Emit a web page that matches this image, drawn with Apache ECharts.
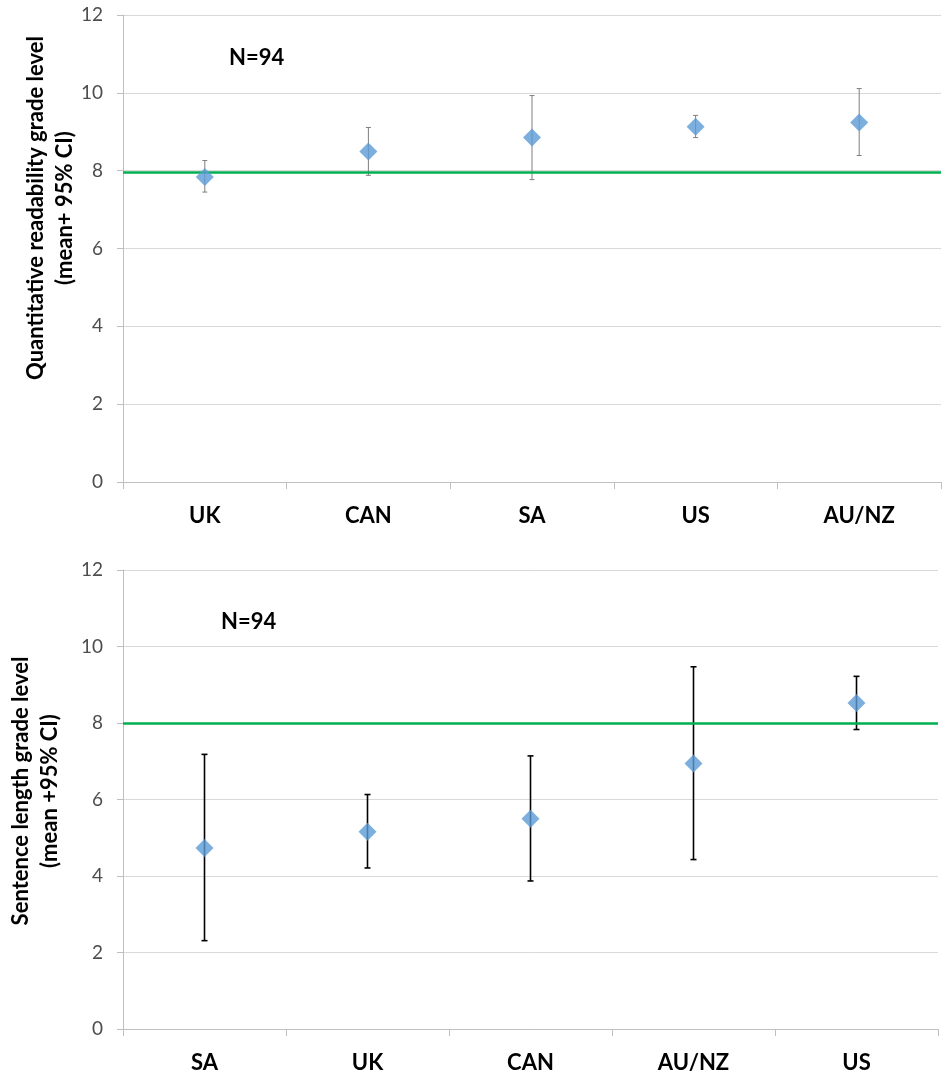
<!DOCTYPE html>
<html>
<head>
<meta charset="utf-8">
<script src="https://cdn.jsdelivr.net/npm/echarts@6/dist/echarts.min.js"></script>
<style>
html,body{margin:0;padding:0;background:#fff;}
#main{width:946px;height:1074px;}
</style>
</head>
<body>
<div id="main"></div>
<script>
// ---- data ----
const topCategories = ['UK', 'CAN', 'SA', 'US', 'AU/NZ'];
const topMean  = [7.84, 8.49, 8.85, 9.13, 9.24];
const topLower = [7.45, 7.88, 7.77, 8.85, 8.39];
const topUpper = [8.26, 9.11, 9.93, 9.42, 10.11];
const topReference = 7.97;

const bottomCategories = ['SA', 'UK', 'CAN', 'AU/NZ', 'US'];
const bottomMean  = [4.73, 5.16, 5.50, 6.94, 8.52];
const bottomLower = [2.31, 4.21, 3.87, 4.43, 7.83];
const bottomUpper = [7.18, 6.13, 7.14, 9.47, 9.22];
const bottomReference = 8.0;

const yMin = 0, yMax = 12, yInterval = 2;
const nLabel = 'N=94';
const topTitle = 'Quantitative readability grade level\n(mean+ 95% CI)';
const bottomTitle = 'Sentence length grade level\n(mean +95% CI)';

// ---- styles ----
const FONT = 'Lato, "Open Sans", sans-serif';
const markerColor = '#5B9BD5';
const refColor = '#00B050';
const gridColor = '#D9D9D9';
const axisColor = '#BFBFBF';

function errorBarRenderer(color, width, capHalf) {
  return function (params, api) {
    const x = api.value(0);
    const lo = api.coord([x, api.value(1)]);
    const hi = api.coord([x, api.value(2)]);
    const st = { stroke: color, lineWidth: width };
    return {
      type: 'group',
      children: [
        { type: 'line', shape: { x1: lo[0], y1: lo[1], x2: hi[0], y2: hi[1] }, style: st },
        { type: 'line', shape: { x1: lo[0] - capHalf, y1: lo[1], x2: lo[0] + capHalf, y2: lo[1] }, style: st },
        { type: 'line', shape: { x1: hi[0] - capHalf, y1: hi[1], x2: hi[0] + capHalf, y2: hi[1] }, style: st }
      ]
    };
  };
}

function xAxisFor(cats, gridIndex) {
  return {
    type: 'category', gridIndex: gridIndex, data: cats,
    axisLine: { lineStyle: { color: axisColor, width: 1 } },
    axisTick: { show: true, length: 7, lineStyle: { color: axisColor } },
    axisLabel: { color: '#000', fontFamily: FONT, fontWeight: 'bold', fontSize: 22, margin: 23 },
    splitLine: { show: false }
  };
}
function yAxisFor(gridIndex) {
  return {
    type: 'value', gridIndex: gridIndex, min: yMin, max: yMax, interval: yInterval,
    axisLine: { show: true, lineStyle: { color: axisColor, width: 1 } },
    axisTick: { show: true, length: 6, lineStyle: { color: axisColor } },
    axisLabel: { color: '#4D4D4D', fontFamily: FONT, fontSize: 19, margin: 20 },
    splitLine: { show: true, lineStyle: { color: gridColor, width: 1 } }
  };
}

const chart = echarts.init(document.getElementById('main'), null, { renderer: 'canvas' });
chart.setOption({
  animation: false,
  backgroundColor: '#fff',
  grid: [
    { left: 123, top: 15, width: 818, height: 467 },
    { left: 123, top: 570, width: 815, height: 459 }
  ],
  xAxis: [xAxisFor(topCategories, 0), xAxisFor(bottomCategories, 1)],
  yAxis: [yAxisFor(0), yAxisFor(1)],
  graphic: [
    { type: 'text', x: 50, y: 208, rotation: Math.PI / 2,
      style: { text: topTitle, font: 'bold 22px ' + FONT, fill: '#000', textAlign: 'center', textVerticalAlign: 'middle', lineHeight: 29 } },
    { type: 'text', x: 35, y: 791, rotation: Math.PI / 2,
      style: { text: bottomTitle, font: 'bold 22px ' + FONT, fill: '#000', textAlign: 'center', textVerticalAlign: 'middle', lineHeight: 29 } },
    { type: 'text', x: 229, y: 57.5,
      style: { text: nLabel, font: 'bold 22px ' + FONT, fill: '#000', textAlign: 'left', textVerticalAlign: 'middle' } },
    { type: 'text', x: 221, y: 622,
      style: { text: nLabel, font: 'bold 22px ' + FONT, fill: '#000', textAlign: 'left', textVerticalAlign: 'middle' } }
  ],
  series: [
    {
      type: 'custom', xAxisIndex: 0, yAxisIndex: 0, z: 3,
      renderItem: errorBarRenderer('#7F7F7F', 1, 2.5),
      data: topCategories.map((c, i) => [i, topLower[i], topUpper[i]]),
      markLine: {
        silent: true, symbol: 'none', label: { show: false },
        lineStyle: { color: refColor, width: 2.5, type: 'solid' },
        data: [{ yAxis: topReference }]
      }
    },
    {
      type: 'scatter', xAxisIndex: 0, yAxisIndex: 0, z: 5,
      symbol: 'diamond', symbolSize: 18,
      itemStyle: { color: markerColor },
      data: topMean
    },
    {
      type: 'custom', xAxisIndex: 1, yAxisIndex: 1, z: 3,
      renderItem: errorBarRenderer('#000000', 1.6, 3),
      data: bottomCategories.map((c, i) => [i, bottomLower[i], bottomUpper[i]]),
      markLine: {
        silent: true, symbol: 'none', label: { show: false },
        lineStyle: { color: refColor, width: 2.5, type: 'solid' },
        data: [{ yAxis: bottomReference }]
      }
    },
    {
      type: 'scatter', xAxisIndex: 1, yAxisIndex: 1, z: 5,
      symbol: 'diamond', symbolSize: 18,
      itemStyle: { color: markerColor },
      data: bottomMean
    }
  ]
});
</script>
</body>
</html>
